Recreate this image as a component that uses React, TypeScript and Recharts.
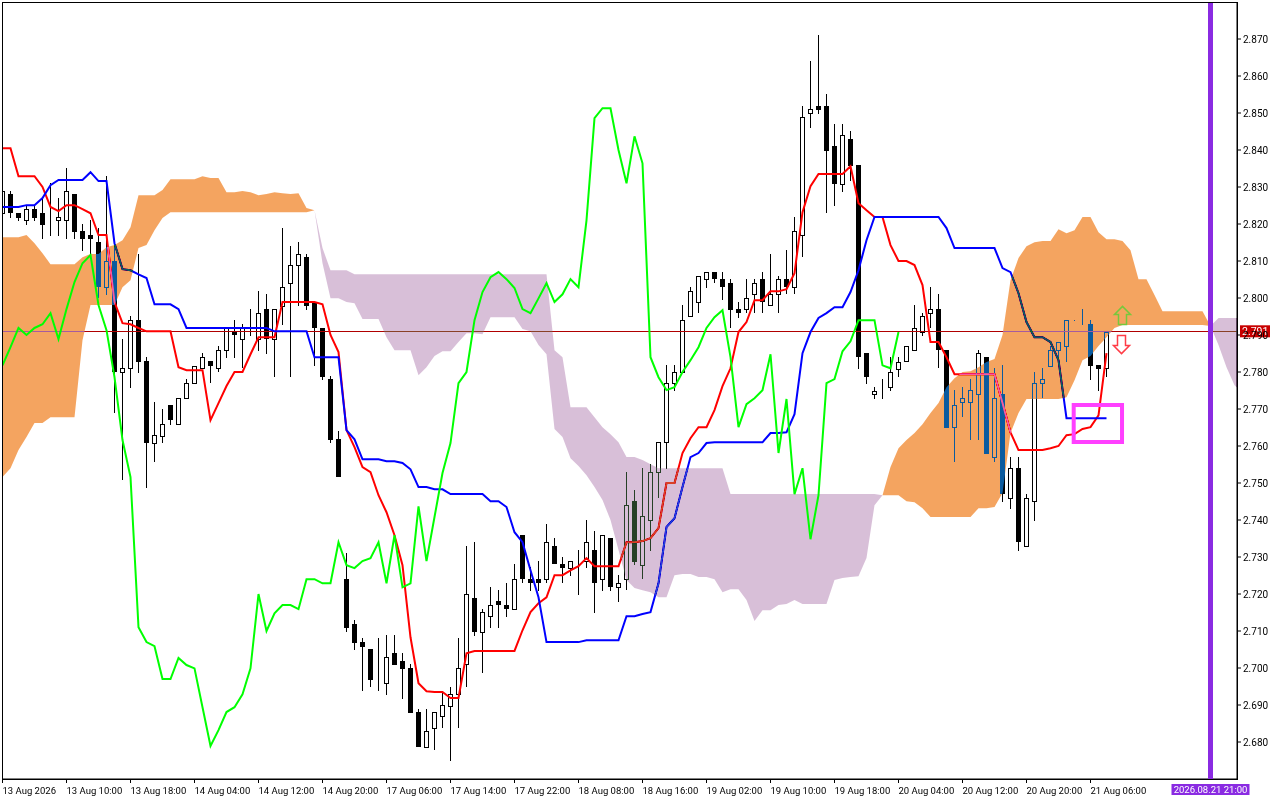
// Ichimoku chart - H1 candles with tenkan, kijun, chikou and the kumo cloud
import React from "react";
import {
  Area,
  Bar,
  CartesianGrid,
  ComposedChart,
  Line,
  ReferenceArea,
  ReferenceDot,
  ReferenceLine,
  XAxis,
  YAxis,
} from "recharts";

const open = [
  2.8229, 2.8281, 2.8229, 2.8210, 2.8240, 2.8229, 2.8210, 2.8210, 2.8210, 2.8281, 2.8181, 2.8170, 2.8151, 2.8029, 2.8100, 2.7800, 2.7810, 2.7940, 2.7829, 2.7608,
  2.7627, 2.7710, 2.7659, 2.7729, 2.7770, 2.7810, 2.7829, 2.7810, 2.7859, 2.7910, 2.7889, 2.7929, 2.7889, 2.7970, 2.7889, 2.7978, 2.8040, 2.8089, 2.8110, 2.7986,
  2.7919, 2.7781, 2.7618, 2.7240, 2.7118, 2.7070, 2.7051, 2.6970, 2.6959, 2.7040, 2.7018, 2.6999, 2.6881, 2.6786, 2.6837, 2.6870, 2.6897, 2.6929, 2.7010, 2.7189,
  2.7097, 2.7140, 2.7181, 2.7170, 2.7159, 2.7359, 2.7240, 2.7240, 2.7240, 2.7329, 2.7281, 2.7270, 2.7300, 2.7289, 2.7319, 2.7240, 2.7351, 2.7218, 2.7240, 2.7451,
  2.7278, 2.7400, 2.7529, 2.7610, 2.7770, 2.7800, 2.7951, 2.7989, 2.8051, 2.8070, 2.8051, 2.8040, 2.7970, 2.7970, 2.8010, 2.8051, 2.7981, 2.8010, 2.8051, 2.8029,
  2.8170, 2.8500, 2.8519, 2.8519, 2.8410, 2.8308, 2.8429, 2.8359, 2.7851, 2.7740, 2.7759, 2.7759, 2.7808, 2.7829, 2.7859, 2.7908, 2.7959, 2.7970, 2.7859, 2.7651,
  2.7719, 2.7719, 2.7740, 2.7840, 2.7570, 2.7740, 2.7459, 2.7540, 2.7329, 2.7451, 2.7770, 2.7816, 2.7859, 2.7870, 2.7940, 2.7940, 2.7929, 2.7818, 2.7810,
];
const high = [
  2.8292, 2.8289, 2.8229, 2.8248, 2.8248, 2.8270, 2.8310, 2.8270, 2.8351, 2.8281, 2.8200, 2.8210, 2.8189, 2.8329, 2.8143, 2.7889, 2.7951, 2.8119, 2.7840, 2.7719,
  2.7700, 2.7710, 2.7729, 2.7781, 2.7816, 2.7851, 2.7829, 2.7870, 2.7919, 2.7940, 2.7929, 2.7970, 2.8018, 2.8010, 2.7970, 2.8189, 2.8140, 2.8151, 2.8119, 2.7986,
  2.7919, 2.7789, 2.7640, 2.7310, 2.7129, 2.7081, 2.7051, 2.7081, 2.7089, 2.7089, 2.7040, 2.7010, 2.6889, 2.6889, 2.6881, 2.6935, 2.6948, 2.7081, 2.7329, 2.7340,
  2.7159, 2.7218, 2.7210, 2.7229, 2.7281, 2.7359, 2.7273, 2.7289, 2.7389, 2.7351, 2.7300, 2.7289, 2.7319, 2.7400, 2.7370, 2.7359, 2.7351, 2.7251, 2.7529, 2.7481,
  2.7540, 2.7551, 2.7610, 2.7818, 2.7818, 2.7981, 2.8029, 2.8059, 2.8070, 2.8070, 2.8070, 2.8051, 2.7989, 2.8051, 2.8051, 2.8070, 2.8119, 2.8059, 2.8129, 2.8219,
  2.8519, 2.8640, 2.8710, 2.8551, 2.8470, 2.8470, 2.8451, 2.8359, 2.7851, 2.7759, 2.7781, 2.7840, 2.7840, 2.7870, 2.7981, 2.7959, 2.8029, 2.8010, 2.7859, 2.7751,
  2.7759, 2.7781, 2.7859, 2.7840, 2.7810, 2.7818, 2.7570, 2.7570, 2.7470, 2.7800, 2.7810, 2.7870, 2.7881, 2.7940, 2.7940, 2.7970, 2.7940, 2.7818, 2.7908,
];
const low = [
  2.8224, 2.8216, 2.8208, 2.8197, 2.8208, 2.8159, 2.8167, 2.8167, 2.8159, 2.8159, 2.8127, 2.8116, 2.7999, 2.8008, 2.7689, 2.7508, 2.7756, 2.7797, 2.7486, 2.7556,
  2.7608, 2.7656, 2.7659, 2.7729, 2.7770, 2.7810, 2.7770, 2.7800, 2.7837, 2.7837, 2.7810, 2.7897, 2.7856, 2.7848, 2.7786, 2.7927, 2.7786, 2.7978, 2.7967, 2.7816,
  2.7778, 2.7608, 2.7516, 2.7097, 2.7048, 2.6937, 2.6948, 2.6937, 2.6927, 2.7008, 2.6916, 2.6878, 2.6786, 2.6786, 2.6778, 2.6837, 2.6748, 2.6837, 2.6948, 2.7086,
  2.6986, 2.7108, 2.7108, 2.7137, 2.7159, 2.7229, 2.7208, 2.7208, 2.7229, 2.7281, 2.7229, 2.7248, 2.7197, 2.7270, 2.7148, 2.7208, 2.7208, 2.7178, 2.7210, 2.7278,
  2.7240, 2.7316, 2.7459, 2.7537, 2.7748, 2.7800, 2.7951, 2.7959, 2.8027, 2.8040, 2.7994, 2.7919, 2.7946, 2.7959, 2.7959, 2.7959, 2.7981, 2.7959, 2.8010, 2.8010,
  2.8110, 2.8459, 2.8497, 2.8229, 2.8248, 2.8286, 2.8316, 2.7808, 2.7767, 2.7727, 2.7727, 2.7748, 2.7786, 2.7829, 2.7859, 2.7897, 2.7919, 2.7810, 2.7648, 2.7556,
  2.7678, 2.7616, 2.7616, 2.7578, 2.7556, 2.7448, 2.7429, 2.7316, 2.7329, 2.7397, 2.7729, 2.7816, 2.7827, 2.7827, 2.7937, 2.7927, 2.7778, 2.7748, 2.7786,
];
const close = [
  2.8289, 2.8229, 2.8216, 2.8240, 2.8216, 2.8197, 2.8210, 2.8219, 2.8289, 2.8178, 2.8159, 2.8159, 2.8029, 2.8100, 2.7800, 2.7810, 2.7940, 2.7827, 2.7608, 2.7629,
  2.7659, 2.7670, 2.7729, 2.7770, 2.7816, 2.7840, 2.7816, 2.7859, 2.7919, 2.7900, 2.7919, 2.7929, 2.7959, 2.7889, 2.7970, 2.8029, 2.8089, 2.8119, 2.7978, 2.7919,
  2.7786, 2.7616, 2.7516, 2.7108, 2.7067, 2.7056, 2.6967, 2.6970, 2.7029, 2.7008, 2.6997, 2.6878, 2.6786, 2.6829, 2.6881, 2.6900, 2.6929, 2.6999, 2.7200, 2.7097,
  2.7151, 2.7170, 2.7170, 2.7159, 2.7240, 2.7240, 2.7229, 2.7229, 2.7340, 2.7281, 2.7270, 2.7289, 2.7300, 2.7340, 2.7229, 2.7359, 2.7218, 2.7229, 2.7440, 2.7286,
  2.7410, 2.7529, 2.7610, 2.7770, 2.7800, 2.7940, 2.8018, 2.8059, 2.8070, 2.8051, 2.8029, 2.7967, 2.7959, 2.7999, 2.8040, 2.7989, 2.8010, 2.8051, 2.8029, 2.8181,
  2.8489, 2.8510, 2.8508, 2.8397, 2.8308, 2.8440, 2.8356, 2.7840, 2.7786, 2.7748, 2.7759, 2.7800, 2.7827, 2.7870, 2.7919, 2.7951, 2.7970, 2.7859, 2.7648, 2.7710,
  2.7729, 2.7751, 2.7851, 2.7578, 2.7729, 2.7470, 2.7540, 2.7340, 2.7459, 2.7770, 2.7781, 2.7859, 2.7881, 2.7940, 2.7940, 2.7940, 2.7816, 2.7808, 2.7908,
];

const tenkan = [
  2.8405, 2.8405, 2.8329, 2.8329, 2.8329, 2.8300, 2.8246, 2.8235, 2.8251, 2.8251, 2.8240, 2.8229, 2.8170, 2.8170, 2.7989, 2.7932, 2.7929, 2.7919, 2.7910, 2.7910,
  2.7910, 2.7910, 2.7813, 2.7805, 2.7805, 2.7805, 2.7670, 2.7716, 2.7762, 2.7800, 2.7800, 2.7848, 2.7894, 2.7894, 2.7894, 2.7989, 2.7989, 2.7989, 2.7989, 2.7989,
  2.7983, 2.7900, 2.7854, 2.7643, 2.7597, 2.7543, 2.7529, 2.7467, 2.7421, 2.7359, 2.7278, 2.7083, 2.6959, 2.6937, 2.6935, 2.6935, 2.6919, 2.6919, 2.7040, 2.7046,
  2.7046, 2.7046, 2.7046, 2.7046, 2.7046, 2.7102, 2.7151, 2.7175, 2.7191, 2.7251, 2.7251, 2.7264, 2.7275, 2.7297, 2.7275, 2.7275, 2.7275, 2.7275, 2.7340, 2.7340,
  2.7343, 2.7351, 2.7378, 2.7500, 2.7500, 2.7581, 2.7621, 2.7651, 2.7651, 2.7697, 2.7762, 2.7810, 2.7908, 2.7935, 2.7994, 2.7994, 2.8018, 2.8018, 2.8024, 2.8067,
  2.8232, 2.8302, 2.8335, 2.8335, 2.8335, 2.8335, 2.8356, 2.8256, 2.8237, 2.8219, 2.8219, 2.8143, 2.8100, 2.8100, 2.8089, 2.8035, 2.7881, 2.7881, 2.7840, 2.7794,
  2.7794, 2.7794, 2.7794, 2.7794, 2.7794, 2.7716, 2.7637, 2.7589, 2.7589, 2.7589, 2.7589, 2.7594, 2.7600, 2.7629, 2.7632, 2.7646, 2.7651, 2.7683, 2.7851,
];
const kijun = [
  2.8246, 2.8246, 2.8246, 2.8251, 2.8251, 2.8270, 2.8305, 2.8319, 2.8319, 2.8319, 2.8319, 2.8340, 2.8316, 2.8316, 2.8148, 2.8078, 2.8075, 2.8064, 2.8054, 2.7983,
  2.7983, 2.7983, 2.7970, 2.7919, 2.7919, 2.7919, 2.7919, 2.7919, 2.7919, 2.7919, 2.7919, 2.7919, 2.7919, 2.7919, 2.7910, 2.7910, 2.7910, 2.7910, 2.7910, 2.7840,
  2.7840, 2.7840, 2.7840, 2.7643, 2.7618, 2.7564, 2.7564, 2.7564, 2.7559, 2.7559, 2.7554, 2.7537, 2.7489, 2.7489, 2.7483, 2.7483, 2.7470, 2.7470, 2.7470, 2.7470,
  2.7470, 2.7451, 2.7451, 2.7435, 2.7367, 2.7340, 2.7264, 2.7191, 2.7070, 2.7070, 2.7070, 2.7070, 2.7070, 2.7075, 2.7075, 2.7075, 2.7075, 2.7075, 2.7140, 2.7140,
  2.7146, 2.7151, 2.7229, 2.7381, 2.7405, 2.7489, 2.7570, 2.7581, 2.7608, 2.7610, 2.7610, 2.7610, 2.7610, 2.7610, 2.7610, 2.7610, 2.7635, 2.7635, 2.7637, 2.7686,
  2.7851, 2.7908, 2.7946, 2.7959, 2.7975, 2.7975, 2.8016, 2.8075, 2.8156, 2.8219, 2.8219, 2.8219, 2.8219, 2.8219, 2.8219, 2.8219, 2.8219, 2.8219, 2.8189, 2.8135,
  2.8135, 2.8135, 2.8135, 2.8135, 2.8135, 2.8081, 2.8070, 2.8013, 2.7935, 2.7894, 2.7894, 2.7881, 2.7832, 2.7675, 2.7675, 2.7675, 2.7675, 2.7675, 2.7675,
];
const chikou = [
  2.7818, 2.7867, 2.7919, 2.7900, 2.7919, 2.7929, 2.7959, 2.7889, 2.7970, 2.8043, 2.8094, 2.8116, 2.7981, 2.7913, 2.7786, 2.7616, 2.7516, 2.7110, 2.7070, 2.7059,
  2.6970, 2.6970, 2.7027, 2.7008, 2.6999, 2.6894, 2.6789, 2.6832, 2.6881, 2.6894, 2.6929, 2.6999, 2.7200, 2.7100, 2.7148, 2.7170, 2.7170, 2.7159, 2.7240, 2.7240,
  2.7229, 2.7229, 2.7340, 2.7278, 2.7270, 2.7289, 2.7297, 2.7340, 2.7229, 2.7359, 2.7218, 2.7229, 2.7437, 2.7289, 2.7408, 2.7527, 2.7608, 2.7770, 2.7800, 2.7940,
  2.8016, 2.8056, 2.8070, 2.8051, 2.8027, 2.7970, 2.7959, 2.7999, 2.8040, 2.7989, 2.8010, 2.8051, 2.8029, 2.8210, 2.8486, 2.8513, 2.8513, 2.8400, 2.8310, 2.8437,
  2.8364, 2.7840, 2.7786, 2.7751, 2.7759, 2.7800, 2.7832, 2.7867, 2.7919, 2.7948, 2.7967, 2.7840, 2.7651, 2.7713, 2.7729, 2.7751, 2.7848, 2.7581, 2.7727, 2.7470,
  2.7540, 2.7348, 2.7467, 2.7770, 2.7781, 2.7856, 2.7883, 2.7940, 2.7940, 2.7940, 2.7818, 2.7810, 2.7908,
];

// cloud runs 26 bars past the last candle, orange where A is above B
const spanA = [
  2.8164, 2.8164, 2.8164, 2.8170, 2.8148, 2.8121, 2.8091, 2.8091, 2.8091, 2.8091, 2.8110, 2.8119, 2.8119, 2.8137, 2.8143, 2.8156, 2.8191, 2.8278, 2.8278, 2.8278,
  2.8292, 2.8321, 2.8321, 2.8321, 2.8321, 2.8329, 2.8324, 2.8324, 2.8286, 2.8286, 2.8289, 2.8286, 2.8278, 2.8281, 2.8286, 2.8283, 2.8281, 2.8283, 2.8243, 2.8237,
  2.8094, 2.7999, 2.7999, 2.7989, 2.7986, 2.7943, 2.7943, 2.7943, 2.7894, 2.7859, 2.7859, 2.7859, 2.7791, 2.7813, 2.7843, 2.7856, 2.7856, 2.7881, 2.7905, 2.7905,
  2.7902, 2.7948, 2.7948, 2.7948, 2.7948, 2.7916, 2.7910, 2.7873, 2.7848, 2.7646, 2.7624, 2.7567, 2.7546, 2.7521, 2.7489, 2.7454, 2.7400, 2.7319, 2.7238, 2.7216,
  2.7210, 2.7205, 2.7191, 2.7191, 2.7251, 2.7254, 2.7254, 2.7246, 2.7246, 2.7240, 2.7205, 2.7213, 2.7213, 2.7184, 2.7127, 2.7156, 2.7156, 2.7170, 2.7173, 2.7184,
  2.7173, 2.7173, 2.7173, 2.7173, 2.7238, 2.7243, 2.7246, 2.7248, 2.7297, 2.7440, 2.7467, 2.7543, 2.7594, 2.7616, 2.7635, 2.7659, 2.7689, 2.7716, 2.7759, 2.7783,
  2.7800, 2.7802, 2.7813, 2.7827, 2.7835, 2.7900, 2.8048, 2.8108, 2.8140, 2.8151, 2.8154, 2.8154, 2.8186, 2.8175, 2.8183, 2.8219, 2.8219, 2.8178, 2.8159, 2.8159,
  2.8154, 2.8129, 2.8051, 2.8051, 2.8008, 2.7964, 2.7964, 2.7964, 2.7964, 2.7964, 2.7964, 2.7924, 2.7873, 2.7813, 2.7764, 2.7746,
];
const spanB = [
  2.7516, 2.7540, 2.7589, 2.7624, 2.7662, 2.7662, 2.7678, 2.7678, 2.7678, 2.7678, 2.7886, 2.7981, 2.7981, 2.7981, 2.7981, 2.8029, 2.8048, 2.8135, 2.8143, 2.8183,
  2.8216, 2.8232, 2.8232, 2.8232, 2.8232, 2.8232, 2.8232, 2.8232, 2.8232, 2.8232, 2.8232, 2.8232, 2.8232, 2.8232, 2.8232, 2.8232, 2.8232, 2.8232, 2.8232, 2.8237,
  2.8135, 2.8075, 2.8075, 2.8075, 2.8064, 2.8064, 2.8064, 2.8064, 2.8064, 2.8064, 2.8064, 2.8064, 2.8064, 2.8064, 2.8064, 2.8064, 2.8064, 2.8064, 2.8064, 2.8064,
  2.8064, 2.8064, 2.8064, 2.8064, 2.8064, 2.8064, 2.8064, 2.8064, 2.8064, 2.7859, 2.7840, 2.7705, 2.7705, 2.7705, 2.7678, 2.7651, 2.7632, 2.7610, 2.7570, 2.7570,
  2.7562, 2.7551, 2.7540, 2.7540, 2.7540, 2.7540, 2.7540, 2.7540, 2.7540, 2.7540, 2.7540, 2.7470, 2.7470, 2.7470, 2.7470, 2.7470, 2.7470, 2.7470, 2.7470, 2.7470,
  2.7470, 2.7470, 2.7470, 2.7470, 2.7470, 2.7470, 2.7470, 2.7470, 2.7470, 2.7470, 2.7467, 2.7467, 2.7467, 2.7451, 2.7448, 2.7432, 2.7408, 2.7408, 2.7408, 2.7408,
  2.7408, 2.7408, 2.7432, 2.7432, 2.7435, 2.7473, 2.7635, 2.7689, 2.7727, 2.7727, 2.7727, 2.7727, 2.7727, 2.7732, 2.7778, 2.7832, 2.7843, 2.7870, 2.7894, 2.7919,
  2.7927, 2.7927, 2.7927, 2.7927, 2.7927, 2.7927, 2.7927, 2.7927, 2.7927, 2.7927, 2.7927, 2.7924, 2.7946, 2.7946, 2.7946, 2.7946,
];

const timeTicks = [0, 8, 16, 24, 32, 40, 48, 56, 64, 72, 80, 88, 96, 104, 112, 120, 128, 136];
const timeLabels = [
  "13 Aug 2026", "13 Aug 10:00", "13 Aug 18:00", "14 Aug 04:00", "14 Aug 12:00", "14 Aug 20:00",
  "17 Aug 06:00", "17 Aug 14:00", "17 Aug 22:00", "18 Aug 08:00", "18 Aug 16:00", "19 Aug 02:00",
  "19 Aug 10:00", "19 Aug 18:00", "20 Aug 04:00", "20 Aug 12:00", "20 Aug 20:00", "21 Aug 06:00",
];
const priceTicks = [
  2.68, 2.69, 2.7, 2.71, 2.72, 2.73, 2.74, 2.75, 2.76, 2.77, 2.78, 2.79, 2.8, 2.81, 2.82, 2.83, 2.84, 2.85, 2.86, 2.87,
];

const LAST_PRICE = 2.791;
const CURSOR_BAR = 151;
const CURSOR_LABEL = "2026.08.21 21:00";
const X_DOMAIN = [-0.0625, 154.3125];
const Y_DOMAIN = [2.67, 2.88];

const FONT = "Roboto, sans-serif";

const chartData = spanA.map((a, i) => {
  const b = spanB[i];
  return {
    i,
    range: i < open.length ? [low[i], high[i]] : undefined,
    open: open[i],
    close: close[i],
    tenkan: tenkan[i],
    kijun: kijun[i],
    chikou: chikou[i],
    orange: a >= b ? [b, a] : undefined,
    purple: a <= b ? [a, b] : undefined,
  };
});

const Candle = (props: any) => {
  const { x, y, width, height, payload } = props;
  if (!payload || !payload.range) return null;
  const [lo, hi] = payload.range;
  const top = Math.min(y, y + height);
  const h = Math.abs(height);
  const perUnit = h / (hi - lo);
  const cx = Math.floor(x + width / 2) + 0.5;
  const bodyTop = Math.round(top + (hi - Math.max(payload.open, payload.close)) * perUnit);
  const bodyBottom = Math.round(top + (hi - Math.min(payload.open, payload.close)) * perUnit);
  const bull = payload.close >= payload.open;
  return (
    <g shapeRendering="crispEdges">
      <line x1={cx} x2={cx} y1={top} y2={top + h} stroke="#000" strokeWidth={1} />
      {bull ? (
        <rect x={cx - 2} y={bodyTop + 0.5} width={4} height={Math.max(bodyBottom - bodyTop, 0)} fill="#fff" stroke="#000" />
      ) : (
        <rect x={cx - 2.5} y={bodyTop} width={5} height={Math.max(bodyBottom - bodyTop, 1)} fill="#000" />
      )}
    </g>
  );
};

const TimeTick = (props: any) => {
  const { x, y, payload } = props;
  return (
    <text x={x} y={y + 9} textAnchor="start" fontFamily={FONT} fontSize={9.5} fill="#000">
      {timeLabels[timeTicks.indexOf(payload.value)]}
    </text>
  );
};

const PriceTag = (props: any) => {
  const { viewBox } = props;
  const right = viewBox.x + viewBox.width;
  return (
    <g>
      <rect x={right + 3} y={viewBox.y - 6} width={30} height={12} fill="#C80000" />
      <text x={right + 5} y={viewBox.y + 4} fontFamily={FONT} fontSize={10.5} fill="#fff">
        {LAST_PRICE.toFixed(3)}
      </text>
    </g>
  );
};

const CursorTag = (props: any) => {
  const { viewBox } = props;
  const bottom = viewBox.y + viewBox.height;
  return (
    <g>
      <rect x={viewBox.x - 39} y={bottom + 5} width={78} height={11} fill="#8A2BE2" />
      <text x={viewBox.x} y={bottom + 14} textAnchor="middle" fontFamily={FONT} fontSize={9.5} fill="#fff">
        {CURSOR_LABEL}
      </text>
    </g>
  );
};

const ArrowUp = ({ cx, cy }: any) => (
  <polygon
    points={`${cx},${cy - 9} ${cx + 8},${cy - 1} ${cx + 4},${cy - 1} ${cx + 4},${cy + 9} ${cx - 4},${cy + 9} ${cx - 4},${cy - 1} ${cx - 8},${cy - 1}`}
    fill="none"
    stroke="#76C83C"
    strokeWidth={1.5}
  />
);

const ArrowDown = ({ cx, cy }: any) => (
  <polygon
    points={`${cx},${cy + 9} ${cx + 8},${cy + 1} ${cx + 4},${cy + 1} ${cx + 4},${cy - 9} ${cx - 4},${cy - 9} ${cx - 4},${cy + 1} ${cx - 8},${cy + 1}`}
    fill="none"
    stroke="#FF3C46"
    strokeWidth={1.5}
  />
);

export default function App() {
  return (
    <div style={{ position: "absolute", left: 0, top: 0, width: 1280, height: 800, background: "#fff" }}>
      {/* difference against white gives sandybrown and thistle, and recolours what lies under the cloud */}
      <style>{`.kumo { mix-blend-mode: difference; }`}</style>
      <ComposedChart
        width={1280}
        height={800}
        data={chartData}
        margin={{ top: 2, right: 0, bottom: 0, left: 2 }}
        barGap={0}
      >
        <CartesianGrid horizontal={false} vertical={false} fill="#fff" fillOpacity={1} />
        <XAxis
          dataKey="i"
          type="number"
          domain={X_DOMAIN}
          allowDataOverflow
          ticks={timeTicks}
          interval={0}
          height={21}
          tickSize={4}
          tick={<TimeTick />}
          stroke="#000"
        />
        <YAxis
          orientation="right"
          type="number"
          domain={Y_DOMAIN}
          allowDataOverflow
          ticks={priceTicks}
          interval={0}
          width={43}
          tickSize={4}
          tickFormatter={(v: number) => v.toFixed(3)}
          tick={{ fill: "#000", fontFamily: FONT, fontSize: 10 }}
          stroke="#000"
        />
        <Bar zIndex={310} dataKey="range" barSize={5} shape={<Candle />} isAnimationActive={false} />
        <ReferenceLine zIndex={315} y={LAST_PRICE} stroke="#B00000" strokeWidth={1} shapeRendering="crispEdges" />
        <Line zIndex={320} dataKey="tenkan" stroke="#FF0000" strokeWidth={2} dot={false} isAnimationActive={false} />
        <Line zIndex={330} dataKey="kijun" stroke="#0000FF" strokeWidth={2} dot={false} isAnimationActive={false} />
        <Area zIndex={500} className="kumo" dataKey="orange" stroke="none" fill="#0B5B9F" fillOpacity={1} isAnimationActive={false} />
        <Area zIndex={510} className="kumo" dataKey="purple" stroke="none" fill="#274027" fillOpacity={1} isAnimationActive={false} />
        <Line zIndex={600} dataKey="chikou" stroke="#00FF00" strokeWidth={2} dot={false} isAnimationActive={false} />
        <ReferenceArea zIndex={700} x1={133.9} x2={139.94} y1={2.7611} y2={2.7711} fill="none" stroke="#FF40FF" strokeWidth={4} />
        <ReferenceDot zIndex={700} x={140} y={2.7953} shape={<ArrowUp />} />
        <ReferenceDot zIndex={700} x={139.875} y={2.7874} shape={<ArrowDown />} />
        <ReferenceLine zIndex={800} x={CURSOR_BAR} stroke="#8A2BE2" strokeWidth={5} label={<CursorTag />} />
        <ReferenceArea zIndex={800} x1={X_DOMAIN[0]} x2={X_DOMAIN[1]} y1={Y_DOMAIN[0]} y2={Y_DOMAIN[1]} fill="none" stroke="#000" shapeRendering="crispEdges" />
        <ReferenceLine zIndex={900} y={LAST_PRICE} stroke="none" label={<PriceTag />} />
      </ComposedChart>
    </div>
  );
}
